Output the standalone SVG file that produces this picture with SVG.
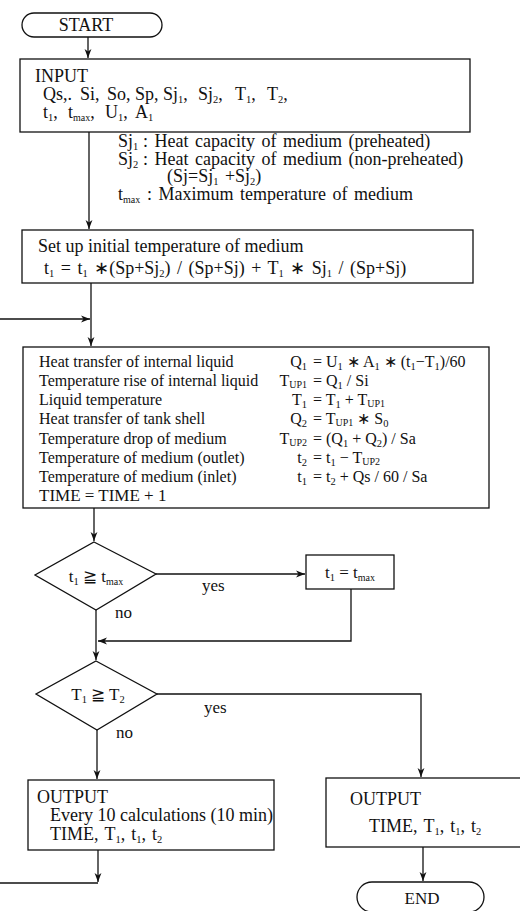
<svg xmlns="http://www.w3.org/2000/svg" width="520" height="911" viewBox="0 0 520 911">
<style>
text{font-family:"Liberation Serif","Times New Roman",serif;font-size:16px;fill:#111}
.sb{font-size:10.5px}
.su{font-size:10px}
.f17{font-size:17px}
.f18{font-size:18px}
.nt{font-size:18px;word-spacing:2px}
.fm{font-size:18px;word-spacing:2px}
.bx{fill:#fff;stroke:#111;stroke-width:1.3}
.ln{fill:none;stroke:#111;stroke-width:1.3}
</style>
<defs>
<marker id="ah" markerWidth="10" markerHeight="8" refX="9" refY="4" orient="auto" markerUnits="userSpaceOnUse">
<path d="M0,0.6 L9,4 L0,7.4 L2.5,4 z" fill="#111"/>
</marker>
</defs>
<g id="connectors">
<path class="ln" d="M88,37 V58" marker-end="url(#ah)"/>
<path class="ln" d="M89,132 V229" marker-end="url(#ah)"/>
<path class="ln" d="M91,283 V346" marker-end="url(#ah)"/>
<path class="ln" d="M0,319 H90" marker-end="url(#ah)"/>
<path class="ln" d="M94,508 V541" marker-end="url(#ah)"/>
<path class="ln" d="M156,574 H305" marker-end="url(#ah)"/>
<path class="ln" d="M351,589 V641 H98" marker-end="url(#ah)"/>
<path class="ln" d="M96,610 V660" marker-end="url(#ah)"/>
<path class="ln" d="M157,694 H421 V777" marker-end="url(#ah)"/>
<path class="ln" d="M97,730 V779" marker-end="url(#ah)"/>
<path class="ln" d="M98,850 V882" marker-end="url(#ah)"/>
<path class="ln" d="M0,883 H98"/>
<path class="ln" d="M423,847 V881" marker-end="url(#ah)"/>
</g>
<g id="start">
<rect class="bx" x="22" y="13" width="140" height="24" rx="12"/>
<text class="f18" x="86" y="31" text-anchor="middle">START</text>
</g>
<g id="input">
<rect class="bx" x="20" y="59" width="450" height="73"/>
<text class="f18" x="35" y="82">INPUT</text>
<text class="f18" y="100"><tspan x="43">Qs,.</tspan><tspan x="80">Si,</tspan><tspan x="107">So,</tspan><tspan x="135">Sp,</tspan><tspan x="163">Sj</tspan><tspan class="sb" dy="2.5">1</tspan><tspan dy="-2.5">,</tspan><tspan x="198">Sj</tspan><tspan class="sb" dy="2.5">2</tspan><tspan dy="-2.5">,</tspan><tspan x="235">T</tspan><tspan class="sb" dy="2.5">1</tspan><tspan dy="-2.5">,</tspan><tspan x="267">T</tspan><tspan class="sb" dy="2.5">2</tspan><tspan dy="-2.5">,</tspan></text>
<text class="f18" y="118"><tspan x="43">t</tspan><tspan class="sb" dy="2.5">1</tspan><tspan dy="-2.5">,</tspan><tspan x="68">t</tspan><tspan class="su" dy="2.5">max</tspan><tspan dy="-2.5">,</tspan><tspan x="105">U</tspan><tspan class="sb" dy="2.5">1</tspan><tspan dy="-2.5">,</tspan><tspan x="135">A</tspan><tspan class="sb" dy="2.5">1</tspan></text>
</g>
<g id="notes">
<text class="nt" x="118" y="147">Sj<tspan class="sb" dy="2.5">1</tspan><tspan x="143" dy="-2.5">: Heat capacity of medium (preheated)</tspan></text>
<text class="nt" x="118" y="165">Sj<tspan class="sb" dy="2.5">2</tspan><tspan x="143" dy="-2.5">: Heat capacity of medium (non-preheated)</tspan></text>
<text class="nt" x="167" y="182">(Sj=Sj<tspan class="sb" dy="2.5">1</tspan><tspan dy="-2.5"> +Sj</tspan><tspan class="sb" dy="2.5">2</tspan><tspan dy="-2.5">)</tspan></text>
<text class="nt" x="118" y="200">t<tspan class="su" dy="2.5">max</tspan><tspan x="147" dy="-2.5">: Maximum temperature of medium</tspan></text>
</g>
<g id="setup">
<rect class="bx" x="22" y="230" width="451" height="53"/>
<text class="f18" x="38" y="252">Set up initial temperature of medium</text>
<text class="fm" x="44" y="274">t<tspan class="sb" dy="2.5">1</tspan><tspan dy="-2.5"> = t</tspan><tspan class="sb" dy="2.5">1</tspan><tspan dy="-2.5"> ∗(Sp+Sj</tspan><tspan class="sb" dy="2.5">2</tspan><tspan dy="-2.5">) / (Sp+Sj) + T</tspan><tspan class="sb" dy="2.5">1</tspan><tspan dy="-2.5"> ∗ Sj</tspan><tspan class="sb" dy="2.5">1</tspan><tspan dy="-2.5"> / (Sp+Sj)</tspan></text>
</g>
<g id="calc">
<rect class="bx" x="23" y="347" width="466" height="161"/>
<text x="39" y="367">Heat transfer of internal liquid</text>
<text x="39" y="386">Temperature rise of internal liquid</text>
<text x="39" y="405">Liquid temperature</text>
<text x="39" y="424">Heat transfer of tank shell</text>
<text x="39" y="444">Temperature drop of medium</text>
<text x="39" y="463">Temperature of medium (outlet)</text>
<text x="39" y="482">Temperature of medium (inlet)</text>
<text class="f17" x="39" y="501">TIME = TIME + 1</text>
<text x="307" y="367" text-anchor="end">Q<tspan class="sb" dy="2.5">1</tspan></text>
<text x="307" y="386" text-anchor="end">T<tspan class="su" dy="2">UP1</tspan></text>
<text x="307" y="405" text-anchor="end">T<tspan class="sb" dy="2.5">1</tspan></text>
<text x="307" y="424" text-anchor="end">Q<tspan class="sb" dy="2.5">2</tspan></text>
<text x="307" y="444" text-anchor="end">T<tspan class="su" dy="2">UP2</tspan></text>
<text x="307" y="463" text-anchor="end">t<tspan class="sb" dy="2.5">2</tspan></text>
<text x="307" y="482" text-anchor="end">t<tspan class="sb" dy="2.5">1</tspan></text>
<text x="313" y="367">= U<tspan class="sb" dy="2.5">1</tspan><tspan dy="-2.5"> ∗ A</tspan><tspan class="sb" dy="2.5">1</tspan><tspan dy="-2.5"> ∗ (t</tspan><tspan class="sb" dy="2.5">1</tspan><tspan dy="-2.5">−T</tspan><tspan class="sb" dy="2.5">1</tspan><tspan dy="-2.5">)/60</tspan></text>
<text x="313" y="386">= Q<tspan class="sb" dy="2.5">1</tspan><tspan dy="-2.5"> / Si</tspan></text>
<text x="313" y="405">= T<tspan class="sb" dy="2.5">1</tspan><tspan dy="-2.5"> + T</tspan><tspan class="su" dy="2">UP1</tspan></text>
<text x="313" y="424">= T<tspan class="su" dy="2">UP1</tspan><tspan dy="-2"> ∗ S</tspan><tspan class="sb" dy="2.5">0</tspan></text>
<text x="313" y="444">= (Q<tspan class="sb" dy="2.5">1</tspan><tspan dy="-2.5"> + Q</tspan><tspan class="sb" dy="2.5">2</tspan><tspan dy="-2.5">) / Sa</tspan></text>
<text x="313" y="463">= t<tspan class="sb" dy="2.5">1</tspan><tspan dy="-2.5"> − T</tspan><tspan class="su" dy="2">UP2</tspan></text>
<text x="313" y="482">= t<tspan class="sb" dy="2.5">2</tspan><tspan dy="-2.5"> + Qs / 60 / Sa</tspan></text>
</g>
<g id="dec1">
<polygon class="bx" points="94,542 156,574 96,610 35,575"/>
<text class="f17" x="96" y="582" text-anchor="middle">t<tspan class="sb" dy="2.5">1</tspan><tspan dy="-2.5"> ≧ t</tspan><tspan class="su" dy="2.5">max</tspan></text>
</g>
<g id="labels1">
<text class="f17" x="202" y="591">yes</text>
<text class="f17" x="115" y="618">no</text>
</g>
<g id="limit">
<rect class="bx" x="306" y="555" width="88" height="34"/>
<text class="f17" x="350" y="578" text-anchor="middle">t<tspan class="sb" dy="2.5">1</tspan><tspan dy="-2.5"> = t</tspan><tspan class="su" dy="2.5">max</tspan></text>
</g>
<g id="dec2">
<polygon class="bx" points="96,661 157,694 97,730 36,694"/>
<text class="f17" x="98" y="700" text-anchor="middle">T<tspan class="sb" dy="2.5">1</tspan><tspan dy="-2.5"> ≧ T</tspan><tspan class="sb" dy="2.5">2</tspan></text>
</g>
<g id="labels2">
<text class="f17" x="204" y="713">yes</text>
<text class="f17" x="116" y="738">no</text>
</g>
<g id="out1">
<rect class="bx" x="28" y="780" width="246" height="70"/>
<text class="f18" x="37" y="803">OUTPUT</text>
<text class="f18" x="50" y="821">Every 10 calculations (10 min)</text>
<text class="f18" x="50" y="840">TIME,<tspan dx="6">T</tspan><tspan class="sb" dy="2.5">1</tspan><tspan dy="-2.5">,</tspan><tspan dx="6">t</tspan><tspan class="sb" dy="2.5">1</tspan><tspan dy="-2.5">,</tspan><tspan dx="6">t</tspan><tspan class="sb" dy="2.5">2</tspan></text>
</g>
<g id="out2">
<rect class="bx" x="326" y="778" width="200" height="69"/>
<text class="f18" x="350" y="805">OUTPUT</text>
<text class="f18" x="369" y="832">TIME,<tspan dx="6">T</tspan><tspan class="sb" dy="2.5">1</tspan><tspan dy="-2.5">,</tspan><tspan dx="6">t</tspan><tspan class="sb" dy="2.5">1</tspan><tspan dy="-2.5">,</tspan><tspan dx="6">t</tspan><tspan class="sb" dy="2.5">2</tspan></text>
</g>
<g id="end">
<rect class="bx" x="357" y="882" width="127" height="30" rx="15"/>
<text class="f17" x="422" y="904" text-anchor="middle">END</text>
</g>
</svg>
